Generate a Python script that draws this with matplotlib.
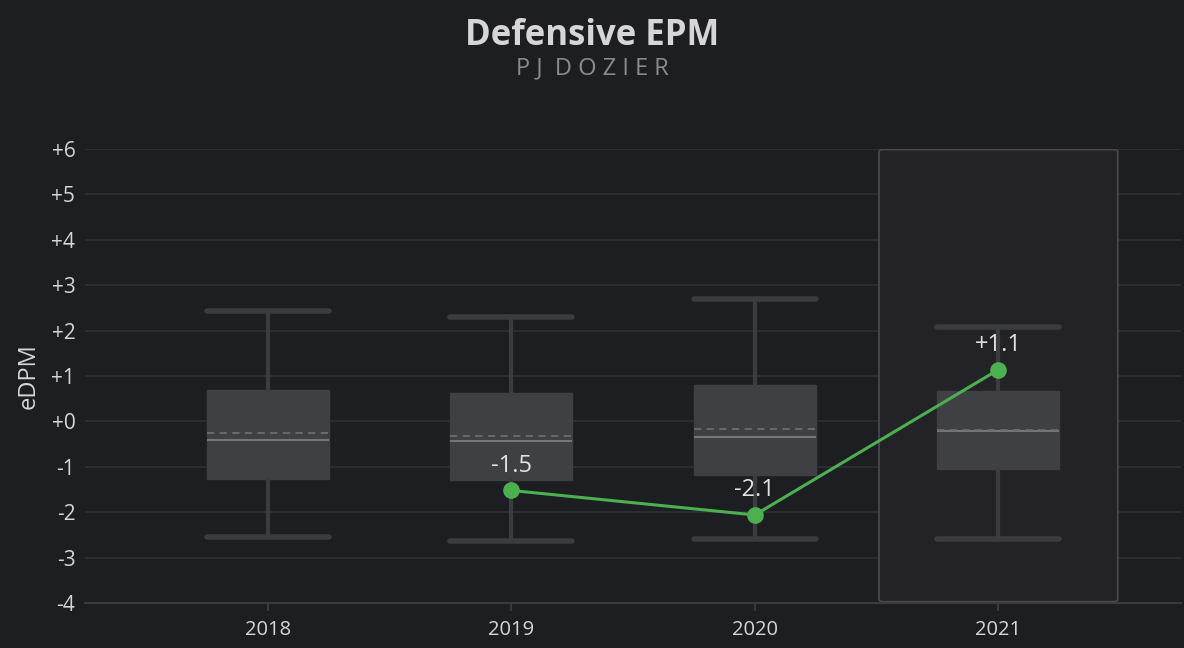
import matplotlib
matplotlib.use("Agg")
import matplotlib.pyplot as plt
from matplotlib.patches import FancyBboxPatch

# ---- data ----
seasons = ["2018", "2019", "2020", "2021"]
q1 = [-1.27, -1.29, -1.18, -1.05]
q3 = [0.69, 0.63, 0.80, 0.67]
medians = [-0.41, -0.43, -0.34, -0.21]
means = [-0.26, -0.32, -0.17, -0.19]
whislo = [-2.55, -2.63, -2.59, -2.59]
whishi = [2.43, 2.30, 2.70, 2.08]
player_idx = [1, 2, 3]
player_vals = [-1.52, -2.06, 1.14]
yticks = [-4, -3, -2, -1, 0, 1, 2, 3, 4, 5, 6]
highlight_idx = 3

BG = "#1d1e22"
GRID = "#303135"
BOXC = "#3f4044"
WHC = "#3b3c40"
GREEN = "#4caf50"
TXT = "#d6d6da"

plt.rcParams['font.family'] = ['Open Sans', 'DejaVu Sans']

fig = plt.figure(figsize=(11.84, 6.48), dpi=100, facecolor=BG)
ax = fig.add_axes([0.0718, 0.0694, 0.9257, 0.7006], facecolor=BG)

x = list(range(len(seasons)))

# highlight rectangle
hl = FancyBboxPatch((highlight_idx - 0.5 + 0.01, -4 + 0.03), 0.98, 9.96,
                    boxstyle="round,pad=0,rounding_size=0.02",
                    mutation_aspect=2.2,
                    facecolor="#232327", edgecolor="#4a4b4f", linewidth=1.2, zorder=1)
ax.add_patch(hl)

stats = []
for i in range(len(seasons)):
    stats.append(dict(med=medians[i], q1=q1[i], q3=q3[i], mean=means[i],
                      whislo=whislo[i], whishi=whishi[i], fliers=[]))
ax.bxp(stats, positions=x, widths=0.5, patch_artist=True, showmeans=True,
       meanline=True, showfliers=False, zorder=2, manage_ticks=False,
       boxprops=dict(facecolor=BOXC, edgecolor=BOXC, linewidth=1),
       whiskerprops=dict(color=WHC, linewidth=3, solid_capstyle="round"),
       capprops=dict(color=WHC, linewidth=4, solid_capstyle="round"),
       medianprops=dict(color="#75767a", linewidth=1.5),
       meanprops=dict(color="#6c6d71", linewidth=1.3, linestyle=(0, (4, 3))),
       capwidths=0.5)

ax.plot(player_idx, player_vals, color=GREEN, linewidth=2.2, marker="o",
        markersize=12, markeredgewidth=0, zorder=5)
for xi, v in zip(player_idx, player_vals):
    ax.annotate(f"{v:+.1f}" if v >= 0 else f"{v:.1f}", (xi, v), xytext=(0, 9),
                textcoords="offset points", ha="center", va="bottom",
                color="#e2e2e6", fontsize=17, zorder=6)

ax.set_xlim(-0.75, 3.75)
ax.set_ylim(-4, 6)
ax.set_yticks(yticks)
ax.set_yticklabels([f"{v:+d}" if v >= 0 else f"{v:d}" for v in yticks])
ax.yaxis.grid(True, color=GRID, linewidth=1.2, zorder=0)
ax.set_axisbelow(True)
ax.set_xticks(x)
ax.set_xticklabels(seasons)

for s in ["top", "right", "left"]:
    ax.spines[s].set_visible(False)
ax.spines["bottom"].set_color("#3a3b3f")
ax.spines["bottom"].set_linewidth(1.5)
ax.tick_params(axis="y", length=0, colors=TXT, labelsize=15, pad=7)
ax.tick_params(axis="x", length=6, width=1.5, color="#3a3b3f", colors=TXT,
               labelsize=14.5, pad=6)
ax.set_ylabel("eDPM", color=TXT, fontsize=17, labelpad=8)

fig.text(0.5, 0.944, "Defensive EPM", ha="center", va="center",
         color=TXT, fontsize=25, fontweight="bold")
fig.text(0.5, 0.895, "P J  D O Z I E R", ha="center", va="center",
         color="#8b8b8f", fontsize=17)

fig.savefig("out.png", dpi=100, facecolor=BG)
